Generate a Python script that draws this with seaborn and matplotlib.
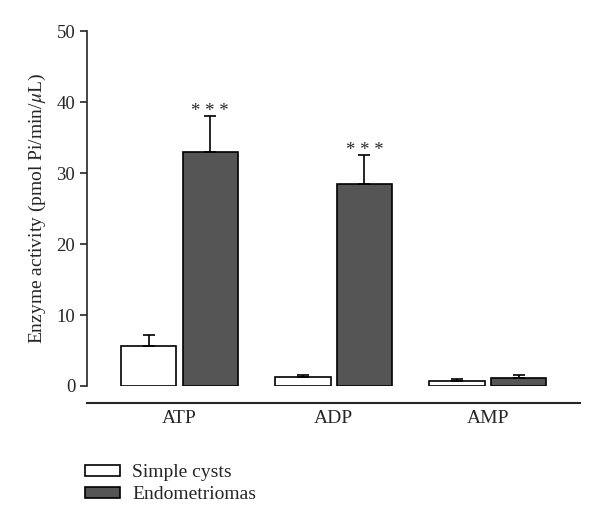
import matplotlib
matplotlib.use("Agg")
import matplotlib.pyplot as plt
import matplotlib.patches as mpatches
import pandas as pd
import seaborn as sns

nucleotides = ["ATP", "ADP", "AMP"]
groups = ["Simple cysts", "Endometriomas"]
simple_cysts = [5.6, 1.2, 0.7]
endometriomas = [32.9, 28.5, 1.1]
simple_err = [1.6, 0.3, 0.25]
endo_err = [5.2, 4.1, 0.45]
signif = ["* * *", "* * *", ""]

sns.set_style("ticks")
plt.rcParams["font.family"] = ["Liberation Serif", "DejaVu Serif"]
plt.rcParams["mathtext.fontset"] = "stix"

df = pd.DataFrame({
    "nucleotide": nucleotides * 2,
    "group": [groups[0]] * 3 + [groups[1]] * 3,
    "activity": simple_cysts + endometriomas,
})

fig = plt.figure(figsize=(6, 5.28), dpi=100)
ax = fig.add_axes([0.145, 0.269, 0.822, 0.672])

colors = {"Simple cysts": "white", "Endometriomas": "#555555"}
sns.barplot(data=df, x="nucleotide", y="activity", hue="group", order=nucleotides,
            hue_order=groups, palette=colors, width=0.8, gap=0.1,
            edgecolor="black", linewidth=1.2, errorbar=None, legend=False, ax=ax)

# error bars (upper only) on top of each bar
errs = simple_err + endo_err
for bar, e in zip(ax.patches, errs):
    xc = bar.get_x() + bar.get_width() / 2
    h = bar.get_height()
    ax.errorbar(xc, h, yerr=[[0], [e]], fmt="none", ecolor="black",
                elinewidth=1.2, capsize=4, capthick=1.2, zorder=1)

endo_bars = ax.patches[3:6]
for bar, e, s in zip(endo_bars, endo_err, signif):
    if s:
        ax.text(bar.get_x() + bar.get_width() / 2, bar.get_height() + e - 0.1, s,
                ha="center", va="baseline", fontsize=13.5)

ax.set_xlim(-0.60, 2.60)
ax.set_ylim(0, 50)
ax.set_yticks([0, 10, 20, 30, 40, 50])
ax.set_xlabel("")
ax.set_ylabel(r"Enzyme activity (pmol Pi/min/$\mu$L)", fontsize=14, labelpad=6)
ax.tick_params(axis="y", labelsize=13.5, length=5, width=1.2, direction="out")
ax.tick_params(axis="x", labelsize=14, length=0, pad=5)

sns.despine(ax=ax)
ax.spines["bottom"].set_position(("outward", 12))
ax.spines["left"].set_linewidth(1.2)
ax.spines["bottom"].set_linewidth(1.5)

handles = [mpatches.Patch(facecolor=colors[g], edgecolor="black", linewidth=1.2, label=g)
           for g in groups]
fig.legend(handles=handles, loc="upper left", bbox_to_anchor=(0.128, 0.135),
           frameon=False, fontsize=14, handlelength=1.8, handleheight=0.5,
           labelspacing=0.25, handletextpad=0.65, borderaxespad=0)

fig.savefig("out.png", dpi=100)
